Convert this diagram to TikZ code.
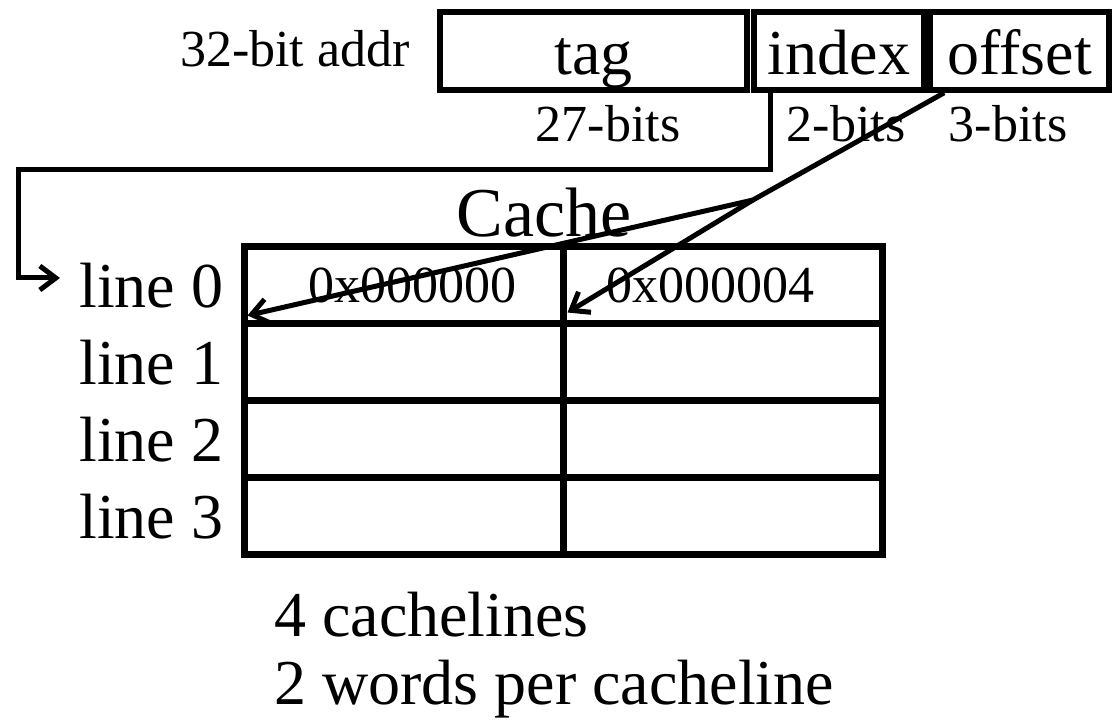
\documentclass[tikz,border=0pt]{standalone}
\usepackage{fontspec}
\setmainfont{Liberation Serif}
\usetikzlibrary{arrows.meta,calc,positioning}
\tikzset{field/.style={draw,line width=5.5pt,minimum height=78pt,inner sep=0pt,text height=63pt,text depth=15pt,font=\fontsize{64}{70}\selectfont},cell/.style={draw,line width=7pt,minimum width=319pt,minimum height=77pt,inner sep=0pt,font=\fontsize{52}{60}\selectfont},small/.style={inner sep=0pt,font=\fontsize{52}{60}\selectfont},big/.style={inner sep=0pt,font=\fontsize{64}{70}\selectfont},wire/.style={line width=5pt},link/.style={wire,-{Straight Barb[length=16pt,width=24pt]}}}

\begin{document}
\begin{tikzpicture}[x=1pt,y=1pt]
        \useasboundingbox (0,0) rectangle (1114,725);
        % address split into fields
        \node[small,anchor=base] (addr) at (295,658) {32-bit addr};
        \node[field,minimum width=307pt] (tag) at (593.5,674) {tag};
        \node[field,minimum width=170pt] (index) at (839,674) {index};
        \node[field,minimum width=179pt] (offset) at (1019.5,674) {offset};
        \node[small,anchor=base] (tagbits) at (608,583) {27-bits};
        \node[small,anchor=base] (indexbits) at (846,583) {2-bits};
        \node[small,anchor=base] (offsetbits) at (1008,583) {3-bits};
        % cache with 4 lines of 2 words
        \node[inner sep=0pt,font=\fontsize{70}{76}\selectfont,anchor=base] (title) at (544,488) {Cache};
        \foreach \r in {0,...,3}{
          \node[cell] (c\r0) at (403.5,{439.5-77*\r}) {};
          \node[cell] (c\r1) at (722.5,{439.5-77*\r}) {};
          \node[big,left=17pt of c\r0] (line\r) {line \r};
        }
        \node[small,xshift=9pt] (word0) at (c00) {0x000000};
        \node[small,xshift=-12pt] (word1) at (c01) {0x000004};
        \node[big,anchor=base west] (note1) at (274,88) {4 cachelines};
        \node[big,anchor=base west] (note2) at (274,20) {2 words per cacheline};
        % index selects the line, offset selects the word
        \coordinate (loop) at (18,555);
        \coordinate (entry) at (60,447);
        \coordinate (fork) at (753,525);
        \draw[link] ($(index.south west)+(19,0)$) |- (loop) |- (entry);
        \draw[wire] ($(offset.south west)+(17,0)$) -- (fork);
        \draw[link] (fork) -- ($(c00.south west)+(7,12)$);
        \draw[link] (fork) -- ($(c01.south west)+(8,15)$);
      \end{tikzpicture}
\end{document}
